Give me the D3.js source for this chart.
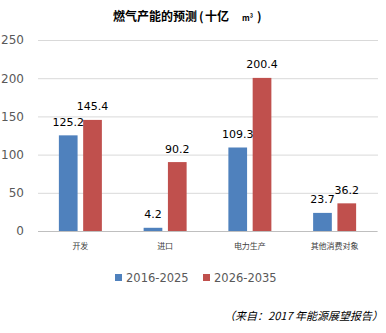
<!DOCTYPE html>
<html>
<head>
<meta charset="utf-8">
<script src="https://cdn.jsdelivr.net/npm/d3@7"></script>
<style>
  html, body { margin: 0; padding: 0; background: #fff; }
  svg { display: block; }
</style>
</head>
<body>
<svg id="chart" width="386" height="333"></svg>
<script>
// Gas production forecast, billion cubic metres
const categories = ["开发", "进口", "电力生产", "其他消费对象"];
const seriesNames = ["2016-2025", "2026-2035"];
const values2016 = [125.2, 4.2, 109.3, 23.7];
const values2026 = [145.4, 90.2, 200.4, 36.2];
const yTicks = [0, 50, 100, 150, 200, 250];
const colors = ["#4F81BD", "#C0504D"];

const svg = d3.select("#chart");
const plotLeft = 38, plotRight = 377, plotTop = 40, plotBottom = 231;

const x0 = d3.scaleBand().domain(categories).range([plotLeft, plotRight]).padding(0);
const x1 = d3.scaleBand().domain(seriesNames).range([-21.5, 21.5]).paddingInner(0.23).paddingOuter(0);
const y = d3.scaleLinear().domain([0, 250]).range([plotBottom, plotTop]);

const font = "'DejaVu Sans', Verdana, sans-serif";
const cjk = "'Noto Sans CJK SC', sans-serif";

// Title, with a small superscript unit
const title = svg.append("text")
  .attr("y", 21)
  .attr("font-family", cjk).attr("font-weight", "bold")
  .attr("font-size", 12).attr("fill", "#000");
title.append("tspan").attr("x", 113).text("燃气产能的预测");
title.append("tspan").attr("x", 199).text("(");
title.append("tspan").attr("x", 205).text("十亿");
title.append("tspan").attr("x", 242).attr("font-size", 8).text("m³");
title.append("tspan").attr("x", 257).text(")");

// Gridlines and y axis labels
const yAxis = d3.axisLeft(y).tickValues(yTicks).tickSize(-(plotRight - plotLeft + 1)).tickPadding(14);
const gy = svg.append("g").attr("transform", `translate(${plotLeft},0)`).call(yAxis);
gy.select(".domain").remove();
gy.selectAll(".tick line").attr("stroke", "#d9d9d9").attr("stroke-width", 1);
gy.selectAll(".tick text")
  .attr("font-family", font).attr("font-size", 12).attr("fill", "#595959");

// Category axis baseline and labels
const xAxis = d3.axisBottom(x0).tickSize(0).tickPadding(12);
const gx = svg.append("g").attr("transform", `translate(0,${plotBottom})`).call(xAxis);
gx.select(".domain").attr("stroke", "#bfbfbf").attr("d", `M${plotLeft},0.5H${plotRight}`);
gx.selectAll(".tick text")
  .attr("font-family", cjk).attr("font-size", 8).attr("fill", "#404040");

// Bars
const seriesData = [values2016, values2026];
const groups = svg.append("g").selectAll("g")
  .data(categories).join("g")
  .attr("transform", d => `translate(${x0(d) + x0.bandwidth() / 2},0)`);

groups.each(function(cat, i) {
  const g = d3.select(this);
  seriesNames.forEach((s, j) => {
    const v = seriesData[j][i];
    g.append("rect")
      .attr("x", x1(s)).attr("width", x1.bandwidth())
      .attr("y", y(v)).attr("height", y(0) - y(v))
      .attr("fill", colors[j]);
  });
  seriesNames.forEach((s, j) => {
    const v = seriesData[j][i];
    g.append("text")
      .attr("x", x1(s) + x1.bandwidth() / 2).attr("y", y(v) - 9.5)
      .attr("text-anchor", "middle")
      .attr("font-family", font).attr("font-size", 11).attr("fill", "#000")
      .text(v.toFixed(1));
  });
});

// Legend
const legendX = [115, 203];
seriesNames.forEach((s, j) => {
  svg.append("rect").attr("x", legendX[j]).attr("y", 274)
    .attr("width", 7).attr("height", 7).attr("fill", colors[j]);
  svg.append("text").attr("x", legendX[j] + 11).attr("y", 281.5)
    .attr("font-family", font).attr("font-size", 11.5).attr("fill", "#595959")
    .text(s);
});

// Source note
svg.append("text")
  .attr("x", 383).attr("y", 320)
  .attr("text-anchor", "end")
  .attr("font-family", cjk).attr("font-style", "italic")
  .attr("font-size", 11).attr("fill", "#000")
  .text("（来自：2017 年能源展望报告）");
</script>
</body>
</html>
